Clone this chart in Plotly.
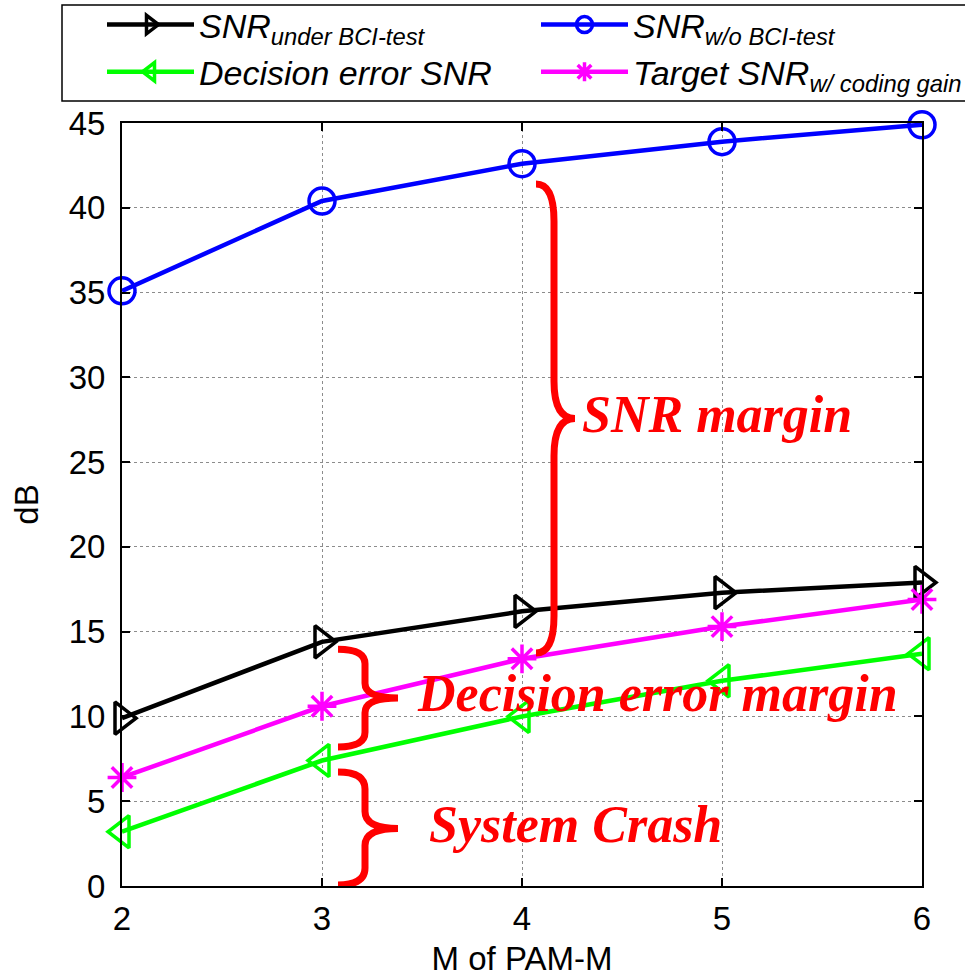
import plotly.graph_objects as go

# M of PAM-M
m_values = [2, 3, 4, 5, 6]

# SNR curves (dB)
snr_under_bci = [9.9, 14.4, 16.2, 17.3, 17.9]
snr_wo_bci = [35.1, 40.4, 42.6, 43.9, 44.9]
decision_error_snr = [3.2, 7.4, 10.0, 12.1, 13.7]
target_snr_coding = [6.4, 10.6, 13.4, 15.3, 16.9]

# Curly-brace spans (dB) and their labels
brace_labels = ["SNR margin", "Decision error margin", "System Crash"]
brace_top = [41.4, 13.97, 6.72]
brace_bottom = [13.74, 8.2, 0.06]

SANS = "Arial, Liberation Sans, Helvetica, sans-serif"
SERIF = "Times New Roman, Liberation Serif, serif"

fig = go.Figure()

series = [
    ("SNR<sub>under BCI-test</sub>", snr_under_bci, "#000000", "triangle-right-open", 28),
    ("SNR<sub>w/o BCI-test</sub>", snr_wo_bci, "#0000FF", "circle-open", 26),
    ("Decision error SNR", decision_error_snr, "#00FF00", "triangle-left-open", 28),
    ("Target SNR<sub>w/ coding gain</sub>", target_snr_coding, "#FF00FF", "asterisk-open", 24),
]

for name, vals, color, symbol, size in series:
    fig.add_trace(go.Scatter(
        x=m_values, y=vals, name=name, mode="lines+markers",
        line=dict(color=color, width=4.5),
        marker=dict(symbol=symbol, size=size, color=color,
                    line=dict(color=color, width=3.5)),
        cliponaxis=False,
    ))


def brace_path(x_end, x_spine, x_tip, y_top, y_bot, curl):
    y_mid = (y_top + y_bot) / 2
    return (
        f"M {x_end},{y_top} Q {x_spine},{y_top} {x_spine},{y_top - curl} "
        f"L {x_spine},{y_mid + curl} Q {x_spine},{y_mid} {x_tip},{y_mid} "
        f"Q {x_spine},{y_mid} {x_spine},{y_mid - curl} "
        f"L {x_spine},{y_bot + curl} Q {x_spine},{y_bot} {x_end},{y_bot}"
    )


# horizontal placement of each brace (end, spine, tip) and of its label
brace_x = [(4.07, 4.16, 4.265), (3.08, 3.215, 3.38), (3.08, 3.215, 3.38)]
label_x = [4.29, 3.465, 3.525]

for (xe, xs, xt), yt, yb, lab, lx in zip(brace_x, brace_top, brace_bottom, brace_labels, label_x):
    half = (yt - yb) / 2
    curl = min(0.3 * half, 2.2)
    fig.add_shape(type="path", xref="x", yref="y",
                  path=brace_path(xe, xs, xt, yt, yb, curl),
                  line=dict(color="#FF0000", width=7))
    fig.add_annotation(x=lx, y=(yt + yb) / 2 + 0.25, xref="x", yref="y",
                       text=f"<b><i>{lab}</i></b>", showarrow=False,
                       xanchor="left", yanchor="middle",
                       font=dict(family=SERIF, size=52, color="#FF0000"))

axis_common = dict(
    showline=True, linecolor="#000000", linewidth=2, mirror="ticks",
    ticks="inside", ticklen=8, tickwidth=2, tickcolor="#000000",
    showgrid=True, gridcolor="#8c8c8c", gridwidth=1, griddash="dot",
    zeroline=False, automargin=False,
    tickfont=dict(family=SANS, size=33, color="#000000"),
)

fig.update_xaxes(range=[2, 6], tickvals=m_values, ticklabelstandoff=2,
                 title=dict(text="M of PAM-M", font=dict(family=SANS, size=33, color="#000000"),
                            standoff=23),
                 **axis_common)
fig.update_yaxes(range=[0, 45], dtick=5, tick0=0, ticklabelstandoff=8,
                 title=dict(text="dB", font=dict(family=SANS, size=33, color="#000000"),
                            standoff=20),
                 **axis_common)

# frame around the legend, running off the right edge of the page
fig.add_shape(type="rect", xref="paper", yref="paper",
              x0=-0.075, x1=1.07, y0=1.0288, y1=1.1547,
              line=dict(color="#000000", width=1.5), fillcolor="rgba(0,0,0,0)")

fig.update_layout(
    width=965, height=977,
    margin=dict(l=122, r=43, t=123, b=91, autoexpand=False),
    paper_bgcolor="#FFFFFF", plot_bgcolor="#FFFFFF",
    showlegend=True,
    legend=dict(
        orientation="h", x=-0.025, y=1.1665, xanchor="left", yanchor="top",
        entrywidth=332, entrywidthmode="pixels", itemwidth=87,
        borderwidth=0, bgcolor="rgba(0,0,0,0)",
        font=dict(family=SANS, size=34, color="#000000", style="italic"),
        tracegroupgap=0, traceorder="normal",
    ),
)

fig.write_html("out.html")
